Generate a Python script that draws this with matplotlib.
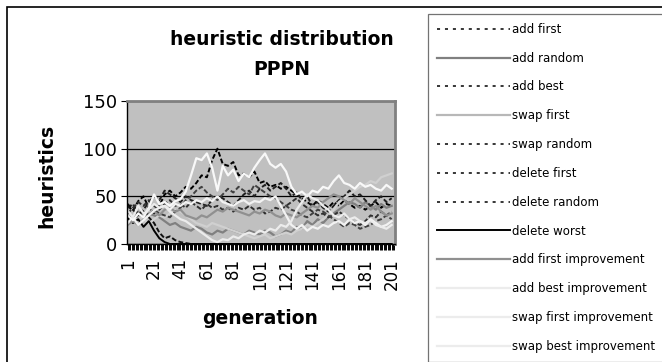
import numpy as np
import matplotlib
matplotlib.use('Agg')
import matplotlib.pyplot as plt
from matplotlib.lines import Line2D
from matplotlib.patches import Rectangle

# generation index (every 4th generation)
gens = np.arange(1, 202, 4)

add_first = [40, 35, 45, 50, 38, 32, 40, 52, 56, 50,
             54, 60, 58, 64, 72, 70, 88, 100, 84, 82,
             86, 72, 74, 70, 76, 64, 66, 60, 62, 58,
             60, 56, 52, 48, 44, 40, 46, 42, 38, 44,
             40, 46, 42, 38, 40, 36, 40, 44, 38, 42,
             40]
add_random = [30, 26, 34, 28, 32, 30, 28, 24, 20, 22,
              18, 16, 14, 18, 16, 12, 10, 14, 12, 16,
              14, 12, 10, 14, 12, 10, 14, 12, 8, 10,
              14, 12, 18, 16, 24, 20, 26, 22, 28, 32,
              36, 40, 44, 42, 38, 44, 40, 36, 42, 38,
              40]
add_best = [38, 42, 30, 36, 44, 50, 46, 56, 52, 48,
            44, 50, 46, 44, 42, 40, 46, 50, 48, 44,
            40, 46, 52, 56, 50, 58, 62, 56, 60, 64,
            58, 50, 54, 46, 50, 40, 44, 38, 34, 40,
            46, 50, 56, 50, 52, 46, 40, 46, 50, 44,
            48]
swap_first = [28, 24, 30, 26, 22, 26, 30, 28, 32, 36,
              34, 30, 26, 22, 20, 18, 22, 20, 18, 16,
              14, 12, 10, 8, 6, 8, 10, 6, 8, 10,
              12, 10, 14, 16, 20, 18, 22, 26, 30, 36,
              44, 48, 52, 56, 60, 62, 66, 64, 70, 72,
              74]
swap_random = [32, 38, 44, 40, 46, 40, 36, 42, 46, 40,
               42, 38, 44, 40, 36, 42, 38, 40, 36, 38,
               34, 38, 36, 40, 36, 38, 32, 34, 38, 36,
               40, 44, 48, 42, 38, 34, 30, 32, 28, 30,
               34, 30, 26, 22, 20, 24, 30, 28, 34, 30,
               34]
delete_first = [42, 36, 30, 34, 28, 22, 12, 6, 8, 4,
                2, 1, 0, 0, 0, 0, 0, 0, 0, 0,
                0, 0, 0, 0, 0, 0, 0, 0, 0, 0,
                0, 0, 0, 0, 0, 0, 0, 0, 0, 0,
                0, 0, 0, 0, 0, 0, 0, 0, 0, 0,
                0]
delete_random = [25, 30, 28, 34, 30, 36, 32, 30, 28, 34,
                 38, 46, 50, 56, 60, 54, 50, 46, 52, 58,
                 54, 60, 56, 52, 62, 58, 54, 50, 48, 44,
                 40, 36, 34, 30, 28, 32, 36, 34, 30, 26,
                 22, 18, 22, 20, 16, 18, 20, 24, 26, 30,
                 26]
delete_worst = [28, 22, 26, 18, 24, 14, 6, 2, 0, 0,
                0, 0, 0, 0, 0, 0, 0, 0, 0, 0,
                0, 0, 0, 0, 0, 0, 0, 0, 0, 0,
                0, 0, 0, 0, 0, 0, 0, 0, 0, 0,
                0, 0, 0, 0, 0, 0, 0, 0, 0, 0,
                0]
add_first_imp = [20, 24, 20, 26, 30, 34, 30, 36, 38, 34,
                 36, 30, 28, 26, 30, 28, 32, 36, 34, 38,
                 36, 34, 32, 30, 34, 32, 36, 34, 30, 28,
                 32, 30, 28, 32, 36, 40, 38, 44, 48, 52,
                 50, 46, 42, 48, 44, 40, 36, 40, 34, 30,
                 32]
add_best_imp = [22, 28, 20, 25, 30, 35, 38, 40, 36, 42,
                40, 44, 42, 46, 44, 48, 45, 50, 44, 42,
                40, 44, 46, 42, 45, 44, 48, 46, 50, 40,
                30, 20, 16, 20, 14, 18, 16, 20, 18, 22,
                24, 20, 26, 22, 24, 20, 26, 22, 18, 20,
                24]
swap_first_imp = [30, 25, 32, 28, 38, 52, 42, 44, 40, 45,
                  47, 55, 72, 90, 88, 95, 80, 56, 82, 72,
                  78, 66, 74, 70, 80, 88, 95, 84, 80, 84,
                  76, 60, 52, 55, 50, 56, 54, 60, 58, 66,
                  72, 64, 62, 58, 64, 60, 62, 58, 56, 62,
                  58]
swap_best_imp = [35, 28, 40, 32, 36, 42, 38, 40, 34, 30,
                 26, 24, 20, 16, 12, 8, 4, 2, 5, 4,
                 8, 6, 10, 12, 10, 14, 12, 16, 14, 20,
                 18, 24, 36, 44, 52, 48, 46, 40, 36, 30,
                 28, 32, 26, 28, 24, 22, 25, 20, 18, 16,
                 20]

labels = ['add first', 'add random', 'add best', 'swap first', 'swap random',
          'delete first', 'delete random', 'delete worst', 'add first improvement',
          'add best improvement', 'swap first improvement', 'swap best improvement']
series = [add_first, add_random, add_best, swap_first, swap_random,
          delete_first, delete_random, delete_worst, add_first_imp,
          add_best_imp, swap_first_imp, swap_best_imp]

# plot styles: (colour in plot, colour in legend, linewidth, dashed)
styles = [('#000000', '#000000', 1.4, True),
          ('#808080', '#808080', 1.6, False),
          ('#202020', '#000000', 1.4, True),
          ('#d0d0d0', '#b8b8b8', 1.6, False),
          ('#303030', '#000000', 1.4, True),
          ('#101010', '#000000', 1.4, True),
          ('#404040', '#000000', 1.4, True),
          ('#000000', '#000000', 1.4, False),
          ('#909090', '#909090', 1.6, False),
          ('#f2f2f2', '#ececec', 1.6, False),
          ('#f8f8f8', '#ececec', 1.6, False),
          ('#ececec', '#ececec', 1.6, False)]

fig = plt.figure(figsize=(6.62, 3.62), dpi=100)
W, H = 662.0, 362.0

# outer chart frame (runs off the right and bottom edge)
fig.patches.append(Rectangle((7 / W, -0.2), 1.2, 1.2 - 7 / H, transform=fig.transFigure,
                             fill=False, edgecolor='black', linewidth=1.2))

ax = fig.add_axes([127 / W, 1 - 244 / H, 268 / W, 143 / H])
ax.set_facecolor('#c0c0c0')

handles = []
for vals, lab, (c, lc, lw, dashed) in zip(series, labels, styles):
    if dashed:
        ax.plot(gens, vals, color=c, lw=lw, dashes=(2.5, 1.2))
        handles.append(Line2D([], [], color=lc, lw=1.1, dashes=(2, 3.2)))
    else:
        ax.plot(gens, vals, color=c, lw=lw)
        handles.append(Line2D([], [], color=lc, lw=lw))

ax.set_xlim(0.5, 203.5)
ax.set_ylim(0, 150)
ax.set_yticks([0, 50, 100, 150])
ax.yaxis.grid(True, color='black', lw=0.9)
ax.set_axisbelow(True)
ax.set_xticks(np.arange(1, 202, 20))
ax.set_xticks(np.arange(1, 204), minor=True)
ax.tick_params(axis='x', which='both', length=4, width=0.7, direction='out')
ax.tick_params(axis='x', which='major', labelsize=12, labelrotation=90, pad=6)
ax.tick_params(axis='y', length=4, width=0.8, labelsize=13, pad=3)
for s in ['top', 'right']:
    ax.spines[s].set_color('#808080')
    ax.spines[s].set_linewidth(2)
ax.spines['left'].set_linewidth(1)
ax.spines['bottom'].set_linewidth(1)

fig.text(282 / W, 1 - 45 / H, 'heuristic distribution', ha='center', va='baseline',
         fontsize=13.5, fontweight='bold')
fig.text(282 / W, 1 - 75 / H, 'PPPN', ha='center', va='baseline',
         fontsize=13.5, fontweight='bold')
fig.text(47 / W, 1 - 176 / H, 'heuristics', ha='center', va='center', rotation=90,
         fontsize=13.5, fontweight='bold')
fig.text(260 / W, 1 - 318 / H, 'generation', ha='center', va='center',
         fontsize=13.5, fontweight='bold')

leg = fig.legend(handles, labels, loc='upper left', bbox_to_anchor=(428 / W, 1 - 14 / H),
                 bbox_transform=fig.transFigure, fontsize=8.5, frameon=True, fancybox=False,
                 borderaxespad=0, borderpad=0.75, handlelength=6.2, handletextpad=0.15,
                 labelspacing=1.34)
leg.get_frame().set_edgecolor('#505050')
leg.get_frame().set_linewidth(0.9)

fig.savefig('out.png', dpi=100)
